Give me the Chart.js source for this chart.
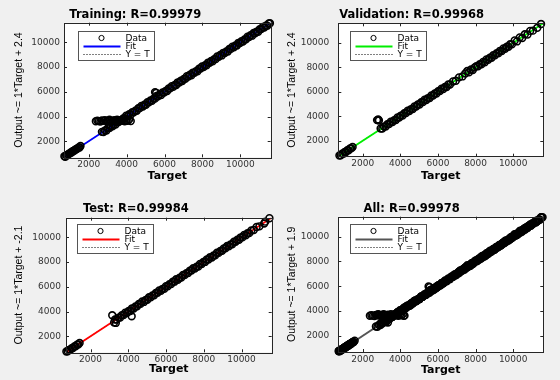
<!DOCTYPE html>
<html><head><meta charset="utf-8">
<script src="https://cdn.jsdelivr.net/npm/chart.js@4.4.1/dist/chart.umd.min.js"></script>
<style>
html,body{margin:0;padding:0;background:#f0f0f0;}
#fig{position:relative;width:560px;height:380px;background:#f0f0f0;overflow:hidden;}
.panel{position:absolute;width:280px;height:190px;}
canvas{display:block;}
</style></head><body><div id="fig">
<div class="panel" style="left:0;top:0"><canvas id="c0" width="280" height="190"></canvas></div>
<div class="panel" style="left:280px;top:0"><canvas id="c1" width="280" height="190"></canvas></div>
<div class="panel" style="left:0;top:190px"><canvas id="c2" width="280" height="190"></canvas></div>
<div class="panel" style="left:280px;top:190px"><canvas id="c3" width="280" height="190"></canvas></div>
</div>
<script>
// ---- axis / ticks ----
const axisMin = 700, axisMax = 11600;
const tickValues = [2000, 4000, 6000, 8000, 10000];
const tickLabels = ['2000', '4000', '6000', '8000', '10000'];

// ---- Training data ----
const trainTarget = [
 720,770,820,870,920,970,1020,1070,1120,1170,1220,1270,1320,1370,1420,1470,1520,1570,
 2380,2460,2540,2620,2700,2780,2860,2940,3020,3100,3180,3260,3340,3420,3500,3580,3660,3740,3820,3900,3980,4060,4140,4220,
 5500,5560,
 2700,2780,2860,2940,3020,3100,3180,3260,3340,3420,
 3500,3580,3660,3740,3820,3900,3980,4060,4140,4220,
 4300,4380,4460,4540,4620,4700,4780,4860,4940,5020,
 5100,5180,5260,5340,5420,5500,5580,5660,5740,5820,
 5900,5980,6060,6140,6220,6300,6380,6460,6540,6620,
 6700,6780,6860,6940,7020,7100,7180,7260,7340,7420,
 7500,7580,7660,7740,7820,7900,7980,8060,8140,8220,
 8300,8380,8460,8540,8620,8700,8780,8860,8940,9020,
 9100,9180,9260,9340,9420,9500,9580,9660,9740,9820,
 9900,9980,10060,10140,10220,10300,10380,10460,10540,10620,
 10700,10780,10860,10940,11020,11100,11180,11260,11340,11420,
 11500,11560
];
const trainOutput = [
 780,750,870,860,950,1000,1030,1110,1100,1210,1230,1270,1350,1360,1430,1500,1500,1610,
 3620,3670,3630,3590,3690,3650,3710,3630,3670,3740,3650,3600,3700,3660,3750,3640,3690,3730,3650,3610,3710,3650,3770,3630,
 5980,5920,
 2760,2740,2880,2870,3070,3080,3260,3210,3350,3360,
 3570,3550,3700,3680,3850,3850,4070,4040,4190,4150,
 4360,4340,4480,4470,4670,4680,4860,4810,4950,4960,
 5170,5150,5300,5280,5450,5450,5670,5640,5790,5750,
 5960,5940,6080,6070,6270,6280,6460,6410,6550,6560,
 6770,6750,6900,6880,7050,7050,7270,7240,7390,7350,
 7560,7540,7680,7670,7870,7880,8060,8010,8150,8160,
 8370,8350,8500,8480,8650,8650,8870,8840,8990,8950,
 9160,9140,9280,9270,9470,9480,9660,9610,9750,9760,
 9970,9950,10100,10080,10250,10250,10470,10440,10590,10550,
 10760,10740,10880,10870,11070,11080,11260,11210,11350,11360,
 11540,11550
];
const fitTrainX = [700, 11600];
const fitTrainY = [702.4, 11602.4];

// ---- Validation data ----
const valTarget = [
 760,830,900,970,1040,1110,1180,1250,1320,1390,1460,
 2760,2820,2860,
 2950,3040,3130,3220,3310,3400,3490,3580,3670,3760,3850,3940,4030,4120,4210,4300,4390,4480,4570,4660,4750,
 4840,4930,5020,5110,5200,5290,5380,5470,5560,5650,5740,5830,5920,6010,6100,6190,6280,6370,6460,6550,6640,
 6800,6950,7120,7300,7450,
 7560,7650,7760,7850,7950,
 8040,8130,8220,8310,8400,8490,8580,8670,8760,8850,8940,9030,9120,9210,9300,9390,9480,9570,9660,9750,9840,9930,
 10080,10200,10350,10480,10620,10760,10900,11050,11280,11480
];
const valOutput = [
 800,810,950,940,1090,1080,1230,1220,1370,1380,1490,
 3690,3740,3660,
 3010,3000,3160,3170,3360,3370,3560,3530,3690,3700,3910,3900,4060,4070,4260,4270,4460,4430,4590,4600,4810,
 4800,4960,4970,5160,5170,5360,5330,5490,5500,5710,5700,5860,5870,6060,6070,6260,6230,6390,6400,6610,6600,
 6850,6900,7180,7260,7500,
 7700,7600,7820,7780,8000,
 8100,8090,8250,8260,8450,8420,8650,8620,8780,8790,9000,8980,9150,9160,9350,9330,9550,9520,9680,9690,9900,9880,
 10200,10120,10450,10400,10700,10680,10980,11000,11230,11540
];
const fitValX = [700, 11600];
const fitValY = [702.4, 11602.4];

// ---- Test data ----
const testTarget = [
 720,790,860,930,1000,1070,1140,1210,1280,1350,1420,
 3150,3250,3340,4180,
 3300,3390,3480,3570,3660,3750,3840,3930,4020,4110,
 4200,4290,4380,4470,4560,4650,4740,4830,4920,5010,
 5100,5190,5280,5370,5460,5550,5640,5730,5820,5910,
 6000,6090,6180,6270,6360,6450,6540,6630,6720,6810,
 6900,6990,7080,7170,7260,7350,7440,7530,7620,7710,
 7800,7890,7980,8070,8160,8250,8340,8430,8520,8610,
 8700,8790,8880,8970,9060,9150,9240,9330,9420,9510,
 9600,9690,9780,9870,9960,10050,10140,10230,10320,10410,
 10520,10650,10800,10950,11200,11260,11480
];
const testOutput = [
 760,790,900,910,1040,1050,1180,1190,1320,1330,1450,
 3700,3120,3080,3620,
 3360,3350,3510,3520,3710,3720,3910,3880,4040,4050,
 4260,4250,4410,4420,4610,4620,4810,4780,4940,4950,
 5160,5150,5310,5320,5510,5520,5710,5680,5840,5850,
 6060,6050,6210,6220,6410,6420,6610,6580,6740,6750,
 6960,6950,7110,7120,7310,7320,7510,7480,7640,7650,
 7860,7850,8010,8020,8210,8220,8410,8380,8540,8550,
 8760,8750,8910,8920,9110,9120,9310,9280,9440,9450,
 9660,9650,9810,9820,10010,10020,10210,10180,10340,10350,
 10560,10600,10850,10900,11130,11280,11560
];
const fitTestX = [700, 11600];
const fitTestY = [697.9, 11597.9];

// ---- All data (union of the three sets) ----
const allTarget = trainTarget.concat(valTarget, testTarget);
const allOutput = trainOutput.concat(valOutput, testOutput);
const fitAllX = [700, 11600];
const fitAllY = [701.9, 11601.9];

const identX = [axisMin, axisMax];
const identY = [axisMin, axisMax];

// ---- plugins ----
const boxPlugin = {
  id: 'mbox',
  beforeDatasetsDraw(chart) {
    const {ctx, chartArea: a} = chart;
    ctx.save();
    ctx.fillStyle = '#ffffff';
    ctx.fillRect(a.left, a.top, a.right - a.left, a.bottom - a.top);
    ctx.restore();
  },
  afterDatasetsDraw(chart) {
    const {ctx, chartArea: a, scales} = chart;
    ctx.save();
    ctx.strokeStyle = '#262626';
    ctx.lineWidth = 1;
    ctx.beginPath();
    tickValues.forEach(v => {
      const px = Math.round(scales.x.getPixelForValue(v)) + 0.5;
      ctx.moveTo(px, a.bottom); ctx.lineTo(px, a.bottom - 3);
      ctx.moveTo(px, a.top); ctx.lineTo(px, a.top + 3);
      const py = Math.round(scales.y.getPixelForValue(v)) + 0.5;
      ctx.moveTo(a.left, py); ctx.lineTo(a.left + 3, py);
      ctx.moveTo(a.right, py); ctx.lineTo(a.right - 3, py);
    });
    ctx.stroke();
    ctx.strokeRect(Math.round(a.left) + 0.5, Math.round(a.top) + 0.5,
                   Math.round(a.right - a.left), Math.round(a.bottom - a.top));
    ctx.restore();
  }
};

const legendPlugin = {
  id: 'mlegend',
  afterDatasetsDraw(chart, args, opts) {
    const {ctx, chartArea: a} = chart;
    const x = Math.round(a.left + opts.dx) + 0.5, y = Math.round(a.top + opts.dy) + 0.5;
    const w = 76, h = 29;
    ctx.save();
    ctx.fillStyle = '#ffffff';
    ctx.fillRect(x, y, w, h);
    ctx.strokeStyle = '#555';
    ctx.lineWidth = 1;
    ctx.strokeRect(x, y, w, h);
    const rows = [6.5, 14.5, 22.5];
    chart.data.datasets.forEach((ds, i) => {
      const ry = Math.round(y + rows[i]);
      ctx.save();
      if (i === 0) {
        ctx.strokeStyle = '#000'; ctx.lineWidth = 1;
        ctx.beginPath(); ctx.arc(x + 23, ry, 2.6, 0, Math.PI * 2); ctx.stroke();
      } else {
        ctx.strokeStyle = ds.borderColor; ctx.lineWidth = ds.borderWidth;
        ctx.setLineDash(ds.borderDash || []);
        ctx.beginPath(); ctx.moveTo(x + 5, ry + 0.5); ctx.lineTo(x + 42, ry + 0.5); ctx.stroke();
      }
      ctx.restore();
      ctx.fillStyle = '#000';
      ctx.font = '9px "DejaVu Sans"';
      ctx.textBaseline = 'middle';
      ctx.textAlign = 'left';
      ctx.fillText(ds.label, x + 47, ry + 0.5);
    });
    ctx.restore();
  }
};

function pts(xs, ys) { return xs.map((v, i) => ({x: v, y: ys[i]})); }

function makePanel(p) {
  new Chart(document.getElementById(p.id), {
    type: 'scatter',
    data: {datasets: [
      {label: 'Data', data: pts(p.t, p.o), showLine: false, pointStyle: 'circle',
       pointRadius: 3.4, pointBorderWidth: 1.6, pointBorderColor: '#000',
       pointBackgroundColor: 'rgba(0,0,0,0)', borderColor: '#000', clip: 4},
      {label: 'Fit', data: pts(p.fx, p.fy), showLine: true, borderColor: p.color,
       borderWidth: 1.8, pointRadius: 0, clip: 0},
      {label: 'Y = T', data: pts(identX, identY), showLine: true, borderColor: '#000',
       borderWidth: 1, borderDash: [1, 2], pointRadius: 0, clip: 0}
    ]},
    options: {
      responsive: false, animation: false, events: [],
      layout: {padding: {left: 0, right: p.padR, top: 0, bottom: 0}},
      plugins: {
        legend: {display: false}, tooltip: {enabled: false},
        title: {display: true, text: p.title, color: '#000',
                font: {family: 'DejaVu Sans', size: 11.5, weight: 'bold'},
                padding: {top: p.tTop, bottom: p.tBot}},
        mlegend: {dx: p.lx, dy: p.ly}
      },
      scales: {
        x: {type: 'linear', min: axisMin, max: axisMax, bounds: 'data',
            afterBuildTicks: s => { s.ticks = tickValues.map(v => ({value: v})); },
            afterFit: s => { s.height = p.xH; },
            grid: {display: false, drawTicks: false}, border: {display: false},
            ticks: {autoSkip: false, maxRotation: 0, padding: 2, color: '#333',
                    font: {family: 'DejaVu Sans', size: 9},
                    callback: (v, i) => tickLabels[i]},
            title: {display: true, text: 'Target', color: '#000',
                    font: {family: 'DejaVu Sans', size: 11, weight: 'bold'},
                    padding: {top: 0, bottom: p.xtPad}}},
        y: {type: 'linear', min: axisMin, max: axisMax, bounds: 'data',
            afterBuildTicks: s => { s.ticks = tickValues.map(v => ({value: v})); },
            afterFit: s => { s.width = p.yW; },
            grid: {display: false, drawTicks: false}, border: {display: false},
            ticks: {autoSkip: false, padding: p.ytkPad, color: '#333',
                    font: {family: 'DejaVu Sans', size: 9},
                    callback: (v, i) => tickLabels[i]},
            title: {display: true, text: p.ylabel, color: '#000',
                    font: {family: '"Liberation Sans", Arial, sans-serif', size: 10.5},
                    padding: {top: p.ytPad, bottom: 0}}}
      }
    },
    plugins: [boxPlugin, legendPlugin]
  });
}

const panels = [
  {id: 'c0', title: 'Training: R=0.99979', ylabel: 'Output ~= 1*Target + 2.4',
   t: trainTarget, o: trainOutput, fx: fitTrainX, fy: fitTrainY, color: '#0000ff',
   yW: 64, padR: 9.3, xH: 32.7, tTop: 8.4, tBot: 0.5, xtPad: 7.4, ytPad: 12.7, ytkPad: 4, lx: 14, ly: 8},
  {id: 'c1', title: 'Validation: R=0.99968', ylabel: 'Output ~= 1*Target + 2.4',
   t: valTarget, o: valOutput, fx: fitValX, fy: fitValY, color: '#00ee00',
   yW: 58.3, padR: 16.7, xH: 33.3, tTop: 8.1, tBot: 1.4, xtPad: 6.9, ytPad: 5.4, ytkPad: 9, lx: 12, ly: 7.5},
  {id: 'c2', title: 'Test: R=0.99984', ylabel: 'Output ~= 1*Target + -2.1',
   t: testTarget, o: testOutput, fx: fitTestX, fy: fitTestY, color: '#ff0000',
   yW: 66, padR: 8.3, xH: 27.7, tTop: 12.1, tBot: 1.8, xtPad: 4.4, ytPad: 12.4, ytkPad: 5, lx: 11, ly: 6.5},
  {id: 'c3', title: 'All: R=0.99978', ylabel: 'Output ~= 1*Target + 1.9',
   t: allTarget, o: allOutput, fx: fitAllX, fy: fitAllY, color: '#555555',
   yW: 58.3, padR: 16.7, xH: 28, tTop: 11.9, tBot: 1.0, xtPad: 3.4, ytPad: 5.4, ytkPad: 9, lx: 12, ly: 7.5}
];
panels.forEach(makePanel);
</script>
</body></html>
